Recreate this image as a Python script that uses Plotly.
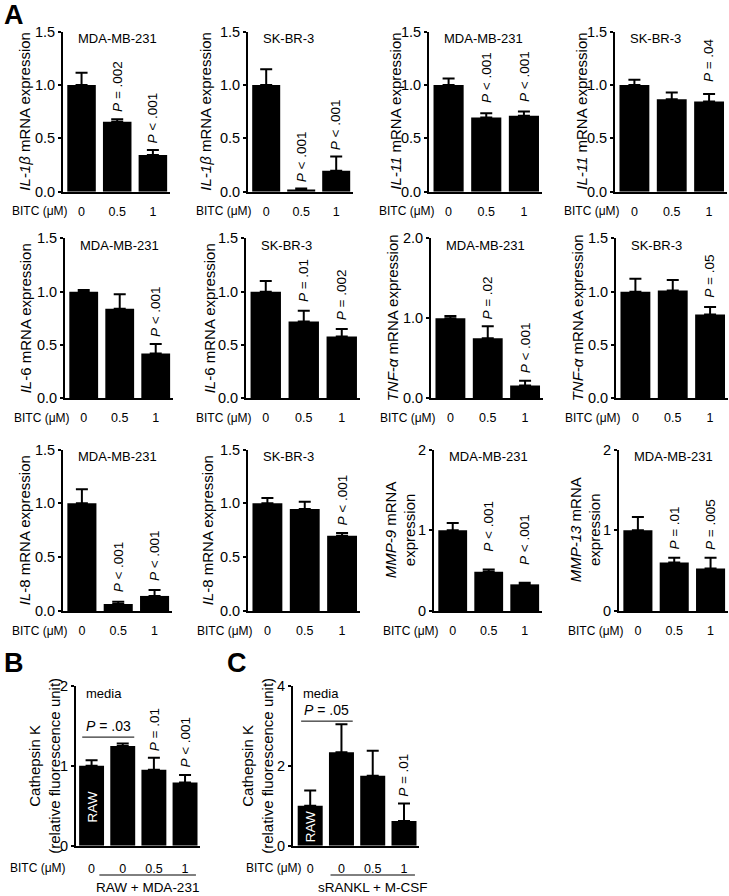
import plotly.graph_objects as go

W, H = 729, 896
FONT = "Liberation Sans, Arial, sans-serif"

# x categories
conc = ["0", "0.5", "1"]
conc_4 = ["0", "0", "0.5", "1"]

# panel A: relative mRNA expression (mean, SEM, P labels)
il1b_mda = [1.00, 0.656, 0.344]
il1b_mda_sem = [0.115, 0.024, 0.046]
il1b_mda_p = [None, "= .002", "< .001"]

il1b_sk = [1.00, 0.02, 0.197]
il1b_sk_sem = [0.147, 0.01, 0.133]
il1b_sk_p = [None, "< .001", "< .001"]

il11_mda = [1.00, 0.696, 0.711]
il11_mda_sem = [0.062, 0.04, 0.04]
il11_mda_p = [None, "< .001", "< .001"]

il11_sk = [1.00, 0.866, 0.845]
il11_sk_sem = [0.05, 0.064, 0.071]
il11_sk_p = [None, None, "= .04"]

il6_mda = [1.00, 0.84, 0.42]
il6_mda_sem = [0.015, 0.135, 0.09]
il6_mda_p = [None, None, "< .001"]

il6_sk = [1.00, 0.72, 0.58]
il6_sk_sem = [0.10, 0.10, 0.07]
il6_sk_p = [None, "= .01", "= .002"]

tnf_mda = [1.00, 0.75, 0.16]
tnf_mda_sem = [0.03, 0.15, 0.06]
tnf_mda_p = [None, "= .02", "< .001"]

tnf_sk = [1.00, 1.01, 0.785]
tnf_sk_sem = [0.12, 0.10, 0.07]
tnf_sk_p = [None, None, "= .05"]

il8_mda = [1.00, 0.065, 0.14]
il8_mda_sem = [0.13, 0.022, 0.055]
il8_mda_p = [None, "< .001", "< .001"]

il8_sk = [1.00, 0.947, 0.70]
il8_sk_sem = [0.05, 0.068, 0.025]
il8_sk_p = [None, None, "< .001"]

mmp9_mda = [1.00, 0.486, 0.33]
mmp9_mda_sem = [0.09, 0.028, 0.02]
mmp9_mda_p = [None, "< .001", "< .001"]

mmp13_mda = [1.00, 0.60, 0.527]
mmp13_mda_sem = [0.165, 0.058, 0.131]
mmp13_mda_p = [None, "= .01", "= .005"]

# panel B / C: cathepsin K activity
catk_b = [1.00, 1.25, 0.95, 0.79]
catk_b_sem = [0.07, 0.03, 0.15, 0.095]
catk_b_p = [None, None, "= .01", "< .001"]

catk_c = [1.00, 2.34, 1.75, 0.62]
catk_c_sem = [0.38, 0.70, 0.63, 0.44]
catk_c_p = [None, None, None, "= .01"]


def px(x, y):
    return x / W, 1 - y / H


def panel(title, cell, y, e, p, box, tx, top=1.5, dtick=0.5, fmt=".1f",
          ticks=conc, xr=-0.52, gap=5, bitc=None):
    return dict(title=title, cell=cell, y=y, e=e, p=p, box=box, tx=tx, top=top,
                dtick=dtick, fmt=fmt, ticks=ticks, xr=xr, gap=gap, bitc=bitc)


panels = [
    panel("<i>IL-1β</i> mRNA expression", "MDA-MB-231", il1b_mda, il1b_mda_sem, il1b_mda_p,
          (63, 170, 31.7, 191.7), 25),
    panel("<i>IL-1β</i> mRNA expression", "SK-BR-3", il1b_sk, il1b_sk_sem, il1b_sk_p,
          (248, 353, 31.7, 191.7), 206, gap=4),
    panel("<i>IL-11</i> mRNA expression", "MDA-MB-231", il11_mda, il11_mda_sem, il11_mda_p,
          (429, 542, 31.7, 191.7), 396, gap=8),
    panel("<i>IL-11</i> mRNA expression", "SK-BR-3", il11_sk, il11_sk_sem, il11_sk_p,
          (615, 727, 31.7, 191.7), 582, gap=10),
    panel("<i>IL</i>-6 mRNA expression", "MDA-MB-231", il6_mda, il6_mda_sem, il6_mda_p,
          (65, 173, 238.3, 398.3), 25),
    panel("<i>IL</i>-6 mRNA expression", "SK-BR-3", il6_sk, il6_sk_sem, il6_sk_p,
          (246, 360, 238.3, 398.3), 209, gap=7),
    panel("<i>TNF-α</i> mRNA expression", "MDA-MB-231", tnf_mda, tnf_mda_sem, tnf_mda_p,
          (431, 543, 238.3, 398.3), 392, top=2.0, dtick=1.0),
    panel("<i>TNF-α</i> mRNA expression", "SK-BR-3", tnf_sk, tnf_sk_sem, tnf_sk_p,
          (616, 728, 238.3, 398.3), 577, gap=7),
    panel("<i>IL</i>-8 mRNA expression", "MDA-MB-231", il8_mda, il8_mda_sem, il8_mda_p,
          (63, 172, 449.5, 611), 24, gap=7),
    panel("<i>IL</i>-8 mRNA expression", "SK-BR-3", il8_sk, il8_sk_sem, il8_sk_p,
          (248, 360, 449.5, 611), 207),
    panel("<i>MMP-9</i> mRNA<br>expression", "MDA-MB-231", mmp9_mda, mmp9_mda_sem, mmp9_mda_p,
          (434, 542, 449.5, 611), 400, top=2, dtick=1, fmt="d", gap=16),
    panel("<i>MMP-13</i> mRNA<br>expression", "MDA-MB-231", mmp13_mda, mmp13_mda_sem, mmp13_mda_p,
          (619, 728, 449.5, 611), 585, top=2, dtick=1, fmt="d", gap=6),
    panel("Cathepsin K<br>(relative fluorescence unit)", "media", catk_b, catk_b_sem, catk_b_p,
          (76, 200, 686, 845.7), 45, top=2, dtick=1, fmt="d", ticks=conc_4, xr=-0.5, bitc=68),
    panel("Cathepsin K<br>(relative fluorescence unit)", "media", catk_c, catk_c_sem, catk_c_p,
          (293, 419, 686, 845.7), 258, top=4, dtick=2, fmt="d", ticks=conc_4, xr=-0.55, bitc=304),
]

fig = go.Figure()
layout = {}
annotations = []
shapes = []

for k, pn in enumerate(panels, start=1):
    x0, x1, yt, yb = pn["box"]
    n = len(pn["y"])
    idx = list(range(n))
    xa, ya = f"x{k}", f"y{k}"
    xmax = n - 1 + 0.48
    fig.add_trace(go.Bar(
        x=idx, y=pn["y"], width=0.8,
        marker=dict(color="black", line=dict(width=0)),
        error_y=dict(type="data", array=pn["e"], arrayminus=[0] * n, symmetric=False,
                     color="black", thickness=2, width=6),
        xaxis=xa, yaxis=ya, hoverinfo="skip",
    ))
    layout[f"xaxis{k}"] = dict(
        domain=[x0 / W, x1 / W], anchor=ya, range=[pn["xr"], xmax], automargin=False,
        tickvals=idx, ticktext=pn["ticks"], ticks="outside", ticklen=7 if n == 3 else 10,
        tickcolor="rgba(0,0,0,0)", showline=True, linewidth=2, linecolor="black",
        showgrid=False, zeroline=False, fixedrange=True,
        tickfont=dict(size=12.5, color="black", family=FONT),
    )
    layout[f"yaxis{k}"] = dict(
        domain=[1 - yb / H, 1 - yt / H], anchor=xa, range=[0, pn["top"]], automargin=False,
        dtick=pn["dtick"], tickformat=pn["fmt"], ticks="outside", ticklen=3, tickwidth=2,
        tickcolor="black", showline=True, linewidth=2, linecolor="black",
        showgrid=False, zeroline=False, fixedrange=True,
        tickfont=dict(size=14.5, color="black", family=FONT),
    )

    # y-axis title
    tx, ty = px(pn["tx"], (yt + yb) / 2)
    annotations.append(dict(text=pn["title"], x=tx, y=ty, xref="paper", yref="paper",
                            textangle=-90, showarrow=False, xanchor="center", yanchor="middle",
                            font=dict(size=15, color="black", family=FONT)))
    # cell line label
    cx, cy = px(x0 + (8 if n == 4 else 13), yt + 7)
    annotations.append(dict(text=pn["cell"], x=cx, y=cy, xref="paper", yref="paper",
                            showarrow=False, xanchor="left", yanchor="middle",
                            font=dict(size=13, color="black", family=FONT)))
    # BITC label
    spacing = (x1 - x0) / (xmax - pn["xr"])
    bright = pn["bitc"] if pn["bitc"] else x0 + (-pn["xr"]) * spacing - 12
    bx, by = px(bright, yb + (22 if n == 4 else 19.5))
    annotations.append(dict(text="BITC (μM)", x=bx, y=by, xref="paper", yref="paper",
                            showarrow=False, xanchor="right", yanchor="middle",
                            font=dict(size=12, color="black", family=FONT)))
    # P values above bars
    for i, (m, s, lab) in enumerate(zip(pn["y"], pn["e"], pn["p"])):
        if lab is None:
            continue
        annotations.append(dict(text="<i>P</i> " + lab.replace("<", "&lt;"), x=i, y=m + s,
                                xref=xa, yref=ya, textangle=-90, showarrow=False,
                                xanchor="center", yanchor="bottom", yshift=pn["gap"],
                                font=dict(size=13.5, color="black", family=FONT)))

# panel B/C extras: bracket comparisons, RAW label, group underline
extras = [
    dict(k=13, bracket=(-0.3, 1.37, 1.36), ptext="= .03", raw_y=807,
         group=(0.25, 3.35, "RAW + MDA-231")),
    dict(k=14, bracket=(-0.29, 1.36, 3.12), ptext="= .05", raw_y=827,
         group=(0.65, 3.35, "sRANKL + M-CSF")),
]
for ex in extras:
    xa, ya = f"x{ex['k']}", f"y{ex['k']}"
    bx0, bx1, by = ex["bracket"]
    shapes.append(dict(type="line", xref=xa, yref=ya, x0=bx0, x1=bx1, y0=by, y1=by,
                       line=dict(color="black", width=1)))
    annotations.append(dict(text="<i>P</i> " + ex["ptext"], x=(bx0 + bx1) / 2, y=by,
                            xref=xa, yref=ya, showarrow=False, xanchor="center",
                            yanchor="bottom", yshift=1,
                            font=dict(size=14, color="black", family=FONT)))
    annotations.append(dict(text="RAW", x=0, y=px(0, ex["raw_y"])[1], xref=xa, yref="paper",
                            textangle=-90, showarrow=False, xanchor="center", yanchor="middle",
                            font=dict(size=13.5, color="white", family=FONT)))
    gx0, gx1, gtext = ex["group"]
    shapes.append(dict(type="line", xref=xa, yref="paper", x0=gx0, x1=gx1,
                       y0=px(0, 875)[1], y1=px(0, 875)[1], line=dict(color="black", width=1)))
    annotations.append(dict(text=gtext, x=(gx0 + gx1) / 2, y=px(0, 887.5)[1], xref=xa,
                            yref="paper", showarrow=False, xanchor="center", yanchor="middle",
                            font=dict(size=13.5, color="black", family=FONT)))

# panel letters
for letter, lx, ly in [("A", 14, 15), ("B", 14, 663), ("C", 237, 663)]:
    x, y = px(lx, ly)
    annotations.append(dict(text=f"<b>{letter}</b>", x=x, y=y, xref="paper", yref="paper",
                            showarrow=False, xanchor="center", yanchor="middle",
                            font=dict(size=27, color="black", family=FONT)))

fig.update_layout(
    width=W, height=H,
    margin=dict(l=0, r=0, t=0, b=0),
    paper_bgcolor="white", plot_bgcolor="white",
    showlegend=False,
    font=dict(family=FONT, color="black"),
    annotations=annotations, shapes=shapes,
    **layout,
)

# the page body has a default 8px margin; drop it so the figure sits at the window's corner
fig.write_html("out.html", config={"displayModeBar": False},
               post_script="document.body.style.margin='0';")
